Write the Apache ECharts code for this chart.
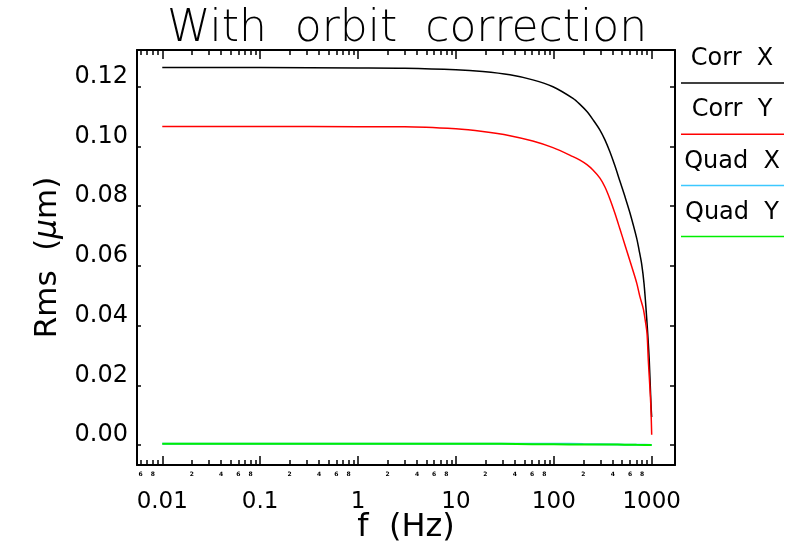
<!DOCTYPE html>
<html>
<head>
<meta charset="utf-8">
<script src="https://cdn.jsdelivr.net/npm/echarts@6/dist/echarts.min.js"></script>
<style>
  html, body { margin: 0; padding: 0; background: #fff; }
  #chart { width: 791px; height: 549px; }
</style>
</head>
<body>
<div id="chart"></div>
<script>
// Integrated rms vs. frequency, with orbit correction
const seriesNames = ['Corr X', 'Corr Y', 'Quad X', 'Quad Y'];

const freqCorrX = [0.01, 0.1, 1, 3, 10, 18.8, 35.6, 61, 98, 157, 185, 218, 251, 296, 333, 374, 421, 473, 533, 600, 702, 743, 790, 836, 889, 944, 984, 1000];
const corrX = [0.1264, 0.1264, 0.1263, 0.1262, 0.1257, 0.1251, 0.1240, 0.1223, 0.1200, 0.1161, 0.1141, 0.1117, 0.1090, 0.1055, 0.1022, 0.0982, 0.0935, 0.0884, 0.0832, 0.0777, 0.0693, 0.0653, 0.0606, 0.0539, 0.0425, 0.0285, 0.0134, 0.0094];

const freqCorrY = [0.01, 0.1, 1, 3, 10, 18.8, 35.6, 61, 98, 157, 185, 218, 251, 296, 333, 374, 421, 473, 533, 600, 702, 759, 821, 855, 895, 923, 977, 1000];
const corrY = [0.1067, 0.1067, 0.1066, 0.1066, 0.1059, 0.1050, 0.1036, 0.1018, 0.0996, 0.0966, 0.0954, 0.0939, 0.0921, 0.0894, 0.0864, 0.0824, 0.0776, 0.0724, 0.0670, 0.0616, 0.0543, 0.0496, 0.0456, 0.0422, 0.0375, 0.0285, 0.0141, 0.0034];

const freqQuad = [0.01, 0.1, 1, 10, 29, 60, 100, 143, 200, 300, 450, 530, 700, 850, 1000];
const quadX = [0.00044, 0.00044, 0.00044, 0.00044, 0.00044, 0.00044, 0.00043, 0.00040, 0.00030, 0.00025, 0.00020, 0.00012, 0.00010, 0.00006, 0.00003];
const quadY = [0.00044, 0.00044, 0.00044, 0.00044, 0.00040, 0.00025, 0.00022, 0.00020, 0.00020, 0.00020, 0.00018, 0.00012, 0.00006, 0.00003, 0.00001];

// Axis definitions
const xMin = 0.00552, xMax = 1730;
const majorTicks = [0.01, 0.1, 1, 10, 100, 1000];
const majorLabels = ['0.01', '0.1', '1', '10', '100', '1000'];
const minorMultipliers = [2, 3, 4, 5, 6, 7, 8, 9];
const minorLabelMultipliers = [2, 4, 6, 8];
const decades = [0.001, 0.01, 0.1, 1, 10, 100, 1000];
const yMin = -0.0067, yMax = 0.1323;
const yTicks = [0, 0.02, 0.04, 0.06, 0.08, 0.10, 0.12];

const colors = ['#000000', '#ff0000', '#3cc8ff', '#00ee00'];
const FONT = '"DejaVu Sans", sans-serif';

const lg = v => Math.log10(v);
const inRange = v => v >= xMin && v <= xMax;
const minorVals = [];
const minorLabelVals = [];
decades.forEach(d => {
  minorMultipliers.forEach(k => { if (inRange(k * d)) minorVals.push(lg(k * d)); });
  minorLabelMultipliers.forEach(k => { if (inRange(k * d)) minorLabelVals.push(lg(k * d)); });
});
const majorVals = majorTicks.map(lg);

function tickAxis(position, vals, len, labelVals, labelOpts) {
  return {
    type: 'value', position: position, min: lg(xMin), max: lg(xMax),
    axisLine: { show: false, onZero: false },
    splitLine: { show: false },
    axisTick: { show: true, inside: true, length: len, customValues: vals,
                lineStyle: { color: '#000', width: 1.5 } },
    axisLabel: labelVals ? Object.assign({ show: true, customValues: labelVals }, labelOpts)
                         : { show: false }
  };
}

const chart = echarts.init(document.getElementById('chart'), null, { renderer: 'canvas' });

const pairs = (xs, ys) => xs.map((x, i) => [x, ys[i]]);

const legendGraphics = [];
seriesNames.forEach((name, i) => {
  const yText = 59 + i * 51.2;
  const yLine = 83 + i * 51.2;
  legendGraphics.push({
    type: 'text', x: 732, y: yText,
    style: { text: name.replace(' ', '  '), fill: '#000', font: '24px ' + FONT,
             textAlign: 'center', textVerticalAlign: 'middle' }
  });
  legendGraphics.push({
    type: 'line', shape: { x1: 681, y1: yLine, x2: 784, y2: yLine },
    style: { stroke: colors[i], lineWidth: 1.5 }
  });
});

const topLine = tickAxis('top', majorVals, 9);
topLine.axisLine = { show: true, onZero: false, lineStyle: { color: '#000', width: 2 } };

chart.setOption({
  animation: false,
  backgroundColor: '#fff',
  title: {
    text: 'With  orbit  correction',
    left: 402, top: 3, textAlign: 'center',
    textStyle: { fontFamily: FONT, fontSize: 44, fontWeight: 200, color: '#000' }
  },
  grid: { left: 137, right: 116, top: 50, bottom: 84, outerBoundsMode: 'none', containLabel: false },
  xAxis: [
    {
      type: 'log', logBase: 10, min: xMin, max: xMax, position: 'bottom',
      name: 'f  (Hz)', nameLocation: 'middle', nameGap: 47,
      nameTextStyle: { fontFamily: FONT, fontSize: 32, color: '#000' },
      axisLine: { show: true, onZero: false, lineStyle: { color: '#000', width: 2 } },
      axisTick: { show: false }, axisLabel: { show: false }, splitLine: { show: false }
    },
    tickAxis('bottom', majorVals, 9, majorVals, {
      margin: 26, fontFamily: FONT, fontSize: 23, color: '#000',
      formatter: v => majorLabels[majorVals.findIndex(m => Math.abs(m - v) < 1e-6)] || ''
    }),
    tickAxis('bottom', minorVals, 5, minorLabelVals, {
      margin: 6, fontFamily: FONT, fontSize: 6, fontWeight: 'bold', color: '#000',
      formatter: v => String(Math.round(Math.pow(10, v - Math.floor(v + 1e-9))))
    }),
    topLine,
    tickAxis('top', minorVals, 5)
  ],
  yAxis: [
    {
      type: 'value', min: yMin, max: yMax, position: 'left',
      name: 'Rms  ({mu|μ}m)', nameLocation: 'middle', nameGap: 74,
      nameTextStyle: { fontFamily: FONT, fontSize: 31, color: '#000',
                       rich: { mu: { fontFamily: FONT, fontSize: 31, fontStyle: 'italic', color: '#000' } } },
      axisLine: { show: true, onZero: false, lineStyle: { color: '#000', width: 2 } },
      axisTick: { show: true, inside: true, length: 4, customValues: yTicks,
                  lineStyle: { color: '#000', width: 1.5 } },
      axisLabel: { show: true, customValues: yTicks, margin: 9, fontFamily: FONT, fontSize: 24,
                   color: '#000', verticalAlign: 'bottom', lineHeight: 20,
                   formatter: v => v.toFixed(2) },
      splitLine: { show: false }
    },
    {
      type: 'value', min: yMin, max: yMax, position: 'right',
      axisLine: { show: true, onZero: false, lineStyle: { color: '#000', width: 2 } },
      axisTick: { show: true, inside: true, length: 5, customValues: yTicks,
                  lineStyle: { color: '#000', width: 1.5 } },
      axisLabel: { show: false }, splitLine: { show: false }
    }
  ],
  series: [
    { name: seriesNames[0], type: 'line', xAxisIndex: 0, yAxisIndex: 0, data: pairs(freqCorrX, corrX),
      showSymbol: false, smooth: 0.3, lineStyle: { color: colors[0], width: 1.5 } },
    { name: seriesNames[1], type: 'line', xAxisIndex: 0, yAxisIndex: 0, data: pairs(freqCorrY, corrY),
      showSymbol: false, smooth: 0.3, lineStyle: { color: colors[1], width: 1.5 } },
    { name: seriesNames[2], type: 'line', xAxisIndex: 0, yAxisIndex: 0, data: pairs(freqQuad, quadX),
      showSymbol: false, lineStyle: { color: colors[2], width: 2 } },
    { name: seriesNames[3], type: 'line', xAxisIndex: 0, yAxisIndex: 0, data: pairs(freqQuad, quadY),
      showSymbol: false, lineStyle: { color: colors[3], width: 2 } }
  ],
  graphic: legendGraphics
});
</script>
</body>
</html>
